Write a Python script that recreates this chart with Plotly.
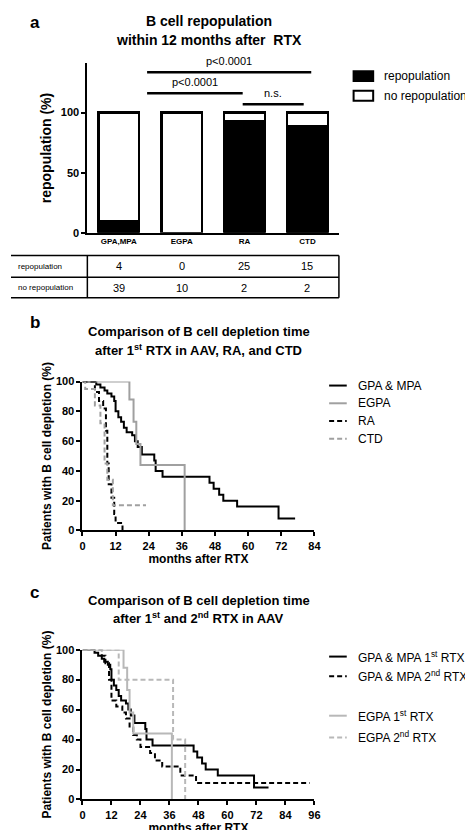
import plotly.graph_objects as go

W, H = 473, 830

# panel a
groups = ["GPA,MPA", "EGPA", "RA", "CTD"]
repop_n = [4, 0, 25, 15]
norepop_n = [39, 10, 2, 2]
repop_pct = [100 * r / (r + n) for r, n in zip(repop_n, norepop_n)]
norepop_pct = [100 - p for p in repop_pct]

# panel b / c Kaplan-Meier steps
gpa_t = [0, 5, 6.5, 8, 9, 10.5, 11.5, 12, 13, 14, 15, 16, 18, 19, 20, 21.5, 26, 26.5, 29, 46, 47.5, 49.5, 51, 56, 71, 77]
gpa_s = [100, 98, 96, 94, 92, 90, 87, 80, 76, 73, 69, 66, 64, 60, 56, 51, 47, 40, 36, 32, 28, 24, 20, 16, 8, 8]
egpa_t = [0, 17, 18.5, 19.5, 21, 37, 37]
egpa_s = [100, 88, 73, 58, 44, 44, 0]
ra_t = [0, 4.5, 6, 7.5, 8.5, 9, 9.5, 10.5, 11.5, 12, 14.5]
ra_s = [100, 93, 87, 82, 67, 45, 31, 22, 11, 5, 0]
ctd_t = [0, 1, 4.5, 6.5, 8, 9, 11, 23]
ctd_s = [100, 95, 84, 72, 45, 34, 17, 17]
gpa2_t = [0, 8, 9.5, 11, 12, 14, 16.5, 18, 19.5, 21, 22.5, 24, 28, 30, 33, 40.5, 47, 94]
gpa2_s = [100, 96, 91, 80, 66, 62, 58, 54, 48, 43, 40, 35, 31, 26, 22, 16, 11, 11]
egpa2_t = [0, 15, 37.5, 42.5, 42.5]
egpa2_s = [100, 80, 40, 40, 0]

FONT = "Liberation Sans"
BLACK = "black"
GREY = "#a0a0a0"
DASH = "5px,3px"


def px(x):
    return x / W


def py(y):
    return 1 - y / H


fig = go.Figure()

fig.add_trace(go.Bar(x=groups, y=repop_pct, marker=dict(color=BLACK, line=dict(color=BLACK, width=2.5)),
                     width=0.65, xaxis="x", yaxis="y", showlegend=False))
fig.add_trace(go.Bar(x=groups, y=norepop_pct, marker=dict(color="white", line=dict(color=BLACK, width=2.5)),
                     width=0.65, xaxis="x", yaxis="y", showlegend=False))


def km(t, s, color, dash, ax):
    fig.add_trace(go.Scatter(x=t, y=s, mode="lines", line=dict(color=color, width=2, dash=dash, shape="hv"),
                             xaxis="x" + ax, yaxis="y" + ax, showlegend=False, cliponaxis=False))


km(gpa_t, gpa_s, BLACK, "solid", "2")
km(egpa_t, egpa_s, GREY, "solid", "2")
km(ra_t, ra_s, BLACK, DASH, "2")
km(ctd_t, ctd_s, GREY, DASH, "2")

km(gpa_t, gpa_s, BLACK, "solid", "3")
km(gpa2_t, gpa2_s, BLACK, DASH, "3")
km(egpa_t, egpa_s, "#b8b8b8", "solid", "3")
km(egpa2_t, egpa2_s, "#b8b8b8", DASH, "3")

axis_common = dict(showline=True, linecolor=BLACK, linewidth=2, ticks="outside", ticklen=4, tickwidth=1.5,
                   tickcolor=BLACK, showgrid=False, zeroline=False,
                   tickfont=dict(family=FONT, size=11, color=BLACK, weight="bold"))
title_font = dict(family=FONT, size=12, color=BLACK, weight="bold")

fig.update_layout(
    width=W, height=H, margin=dict(l=0, r=0, t=0, b=0), plot_bgcolor="white", paper_bgcolor="white",
    barmode="stack", bargap=0.35,
    xaxis=dict(axis_common, domain=[px(78), px(335)], anchor="y", ticks="",
               tickfont=dict(family=FONT, size=8, color=BLACK, weight="bold")),
    yaxis=dict(axis_common, domain=[py(222), py(50)], anchor="x", range=[0, 141], tickvals=[0, 50, 100],
               title=dict(text="repopulation (%)", font=dict(family=FONT, size=14, color=BLACK, weight="bold"),
                          standoff=6)),
    xaxis2=dict(axis_common, domain=[px(73), px(310)], anchor="y2", range=[0, 84], tickvals=list(range(0, 85, 12)),
                title=dict(text="months after RTX", font=title_font, standoff=2)),
    yaxis2=dict(axis_common, domain=[py(524), py(373)], anchor="x2", range=[0, 100], tickvals=list(range(0, 101, 20)),
                title=dict(text="Patients with B cell depletion (%)", font=title_font, standoff=2)),
    xaxis3=dict(axis_common, domain=[px(73), px(310)], anchor="y3", range=[0, 96], tickvals=list(range(0, 97, 12)),
                title=dict(text="months after RTX", font=title_font, standoff=0)),
    yaxis3=dict(axis_common, domain=[py(797), py(645)], anchor="x3", range=[0, 100], tickvals=list(range(0, 101, 20)),
                title=dict(text="Patients with B cell depletion (%)", font=title_font, standoff=2)),
)

shapes = []
ann = []


def text(x, y, s, size=11, bold=False, xanchor="left"):
    ann.append(dict(x=px(x), y=py(y), xref="paper", yref="paper", text=s, showarrow=False, xanchor=xanchor,
                    yanchor="middle", font=dict(family=FONT, size=size, color=BLACK, weight="bold" if bold else "normal")))


def pline(x0, y0, x1, y1, color=BLACK, width=1.5, dash="solid"):
    shapes.append(dict(type="line", xref="paper", yref="paper", x0=px(x0), y0=py(y0), x1=px(x1), y1=py(y1),
                       line=dict(color=color, width=width, dash=dash)))


# panel labels and titles
text(17, 9, "a", 17, True)
text(202, 7, "B cell repopulation", 14, True, "center")
text(202, 26, "within 12 months after  RTX", 14, True, "center")
text(17, 313, "b", 17, True)
text(192, 322, "Comparison of B cell depletion time", 13, True, "center")
text(192, 341, "after 1<sup>st</sup> RTX in AAV, RA, and CTD", 13, True, "center")
text(17, 587, "c", 17, True)
text(192, 595, "Comparison of B cell depletion time", 13, True, "center")
text(192, 613, "after 1<sup>st</sup> and 2<sup>nd</sup> RTX in AAV", 13, True, "center")

# significance brackets (data coords of panel a)
for x0, x1, y, lab in [(0.45, 3.06, 133.6, "p<0.0001"), (0.45, 1.97, 116, "p<0.0001"), (1.97, 2.94, 107, "n.s.")]:
    shapes.append(dict(type="line", xref="x", yref="y", x0=x0, x1=x1, y0=y, y1=y, line=dict(color=BLACK, width=2.5)))
    ann.append(dict(x=(x0 + x1) / 2, y=y + 3, xref="x", yref="y", text=lab, showarrow=False, yanchor="bottom",
                    font=dict(family=FONT, size=11, color=BLACK)))

# panel a legend
shapes.append(dict(type="rect", xref="paper", yref="paper", x0=px(350), x1=px(370), y0=py(58), y1=py(68),
                   fillcolor=BLACK, line=dict(color=BLACK, width=2)))
shapes.append(dict(type="rect", xref="paper", yref="paper", x0=px(350), x1=px(370), y0=py(78), y1=py(88),
                   fillcolor="white", line=dict(color=BLACK, width=2)))
text(379, 63, "repopulation", 12)
text(379, 83, "no repopulation", 12)

# table under panel a
pline(0, 245, 335, 245)
pline(0, 267, 335, 267)
pline(0, 288, 335, 288)
pline(335, 245, 335, 288)
pline(78, 245, 78, 288)
text(5, 256, "repopulation", 8)
text(5, 278, "no repopulation", 8)
for i in range(len(groups)):
    cx = 110 + 64.25 * i
    text(cx, 256, str(repop_n[i]), 11, False, "center")
    text(cx, 278, str(norepop_n[i]), 11, False, "center")

# legends for b and c
for y, lab, col, dash in [(377, "GPA & MPA", BLACK, "solid"), (395, "EGPA", GREY, "solid"),
                          (413, "RA", BLACK, DASH), (431, "CTD", GREY, DASH)]:
    pline(325, y, 343, y, col, 2, dash)
    text(352, y, lab, 12)
for y, lab, col, dash in [(652, "GPA & MPA 1<sup>st</sup> RTX", BLACK, "solid"),
                          (672, "GPA & MPA 2<sup>nd</sup> RTX", BLACK, DASH),
                          (712, "EGPA 1<sup>st</sup> RTX", "#b8b8b8", "solid"),
                          (734, "EGPA 2<sup>nd</sup> RTX", "#b8b8b8", DASH)]:
    pline(325, y, 343, y, col, 2, dash)
    text(352, y, lab, 12)

fig.update_layout(shapes=shapes, annotations=ann)
fig.write_html("out.html")
